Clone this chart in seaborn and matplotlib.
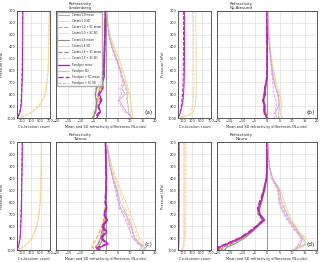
import numpy as np
import pandas as pd
import matplotlib
matplotlib.use("Agg")
import matplotlib.pyplot as plt
import seaborn as sns

# pressure levels (hPa)
plev = [100, 200, 300, 400, 500, 600, 650, 700, 750, 800, 850, 900, 950, 975, 1000]

stations = ["Lindenberg", "Ny-Alesund", "Tateno", "Nauru"]
panel_tags = ["(a)", "(b)", "(c)", "(d)"]

# ---- Lindenberg ----
lin_c10_mean = [0, -0.2, -0.3, -0.4, -0.5, -0.8, -1.0, -1.5, -2.2, -2.8, -3.0, -3.5, -4.0, -4.5, -5.0]
lin_c10_sd = [0.5, 1.0, 1.8, 3.5, 5.5, 7.0, 7.8, 8.5, 9.2, 9.8, 10.2, 10.5, 10.8, 11.0, 11.2]
lin_c10sc_mean = [0, -0.2, -0.3, -0.4, -0.6, -0.9, -1.2, -1.8, -2.5, -3.0, -3.4, -3.8, -4.3, -4.8, -5.2]
lin_c10sc_sd = [0.5, 1.0, 1.7, 3.3, 5.2, 6.8, 7.5, 8.2, 8.8, 9.5, 9.9, 10.2, 10.5, 10.8, 11.0]
lin_c16_mean = [0, -0.2, -0.3, -0.5, -0.6, -1.0, -1.3, -2.0, -3.5, -4.2, -3.8, -3.6, -4.0, -4.6, -5.0]
lin_c16_sd = [0.5, 0.9, 1.5, 2.8, 4.5, 6.2, 6.8, 7.5, 8.5, 9.0, 8.8, 9.2, 9.5, 10.0, 10.3]
lin_c16sc_mean = [0, -0.2, -0.3, -0.5, -0.7, -1.1, -1.5, -2.2, -3.8, -4.0, -3.6, -3.8, -4.2, -4.8, -5.1]
lin_c16sc_sd = [0.5, 0.9, 1.5, 2.7, 4.3, 6.0, 6.6, 7.2, 8.2, 8.6, 8.5, 9.0, 9.3, 9.8, 10.1]
lin_pl_mean = [0, -0.1, -0.2, -0.3, -0.4, -0.6, -0.5, -1.2, -1.0, -2.5, -1.5, -2.8, -2.0, -3.0, -3.5]
lin_pl_sd = [0.4, 0.8, 1.3, 2.5, 4.3, 6.0, 6.5, 7.8, 6.5, 8.0, 5.5, 7.0, 8.5, 10.0, 10.5]
lin_plsc_mean = [0, -0.1, -0.2, -0.3, -0.5, -0.7, -0.8, -1.5, -1.3, -2.8, -2.0, -3.0, -2.5, -3.5, -4.0]
lin_plsc_sd = [0.4, 0.8, 1.3, 2.4, 4.0, 5.8, 6.2, 7.0, 5.8, 6.5, 5.0, 6.3, 7.8, 9.5, 10.0]

# ---- Ny-Alesund ----
ny_c10_mean = [0, 0, 0.1, 0.1, 0.1, 0.1, 0.2, 0, -0.5, -1.0, -1.2, -0.8, -0.5, -0.2, 0.2]
ny_c10_sd = [0.3, 0.5, 0.8, 1.2, 1.8, 2.5, 3.0, 3.5, 4.2, 5.0, 5.5, 5.8, 5.5, 5.5, 6.0]
ny_c10sc_mean = [0, 0, 0.1, 0.1, 0.1, 0.1, 0.1, -0.1, -0.6, -1.1, -1.3, -1.0, -0.6, -0.3, 0.1]
ny_c10sc_sd = [0.3, 0.5, 0.8, 1.2, 1.8, 2.6, 3.2, 3.6, 4.4, 5.2, 5.6, 5.9, 5.6, 5.8, 6.2]
ny_c16_mean = [0, 0, 0.1, 0.1, 0.1, 0.1, 0.1, -0.2, -0.8, -1.3, -1.5, -1.2, -0.7, -0.4, 0]
ny_c16_sd = [0.3, 0.5, 0.7, 1.1, 1.6, 2.2, 2.6, 3.0, 3.6, 4.3, 4.8, 5.0, 4.8, 4.5, 5.0]
ny_c16sc_mean = [0, 0, 0.1, 0.1, 0.1, 0.1, 0.1, -0.3, -0.9, -1.4, -1.6, -1.3, -0.8, -0.5, 0]
ny_c16sc_sd = [0.3, 0.5, 0.7, 1.1, 1.5, 2.1, 2.5, 2.9, 3.4, 4.1, 4.6, 4.8, 4.6, 4.3, 4.8]
ny_pl_mean = [0, 0, 0, 0.1, 0, 0.1, 0, -0.3, -0.8, -0.6, -1.5, -0.8, -1.2, -0.5, 0]
ny_pl_sd = [0.3, 0.4, 0.6, 1.0, 1.5, 2.0, 2.3, 2.8, 3.5, 4.5, 4.8, 4.5, 3.5, 3.5, 4.0]
ny_plsc_mean = [0, 0, 0, 0.1, 0, 0, -0.1, -0.4, -1.0, -0.8, -1.7, -1.0, -1.4, -0.6, 0]
ny_plsc_sd = [0.3, 0.4, 0.6, 0.9, 1.3, 1.8, 2.0, 2.2, 2.5, 2.8, 3.5, 3.8, 3.0, 2.8, 3.0]

# ---- Tateno ----
tat_c10_mean = [0, 0, 0.2, 0.3, 0.2, 0.1, 0, -0.3, -0.5, -1.0, -1.5, -2.0, -3.0, -4.0, -3.0]
tat_c10_sd = [0.3, 1.5, 2.5, 4.2, 6.2, 8.2, 9.2, 10.2, 11.0, 12.0, 12.8, 13.8, 15.5, 17.0, 15.5]
tat_c10sc_mean = [0, 0, 0.1, 0.2, 0.1, 0, -0.2, -0.5, -0.8, -1.5, -2.5, -3.5, -5.0, -5.5, -4.0]
tat_c10sc_sd = [0.3, 1.4, 2.3, 3.8, 5.5, 7.2, 8.0, 9.0, 10.0, 11.0, 12.0, 13.0, 14.5, 16.0, 15.0]
tat_c16_mean = [0, 0.1, 0.3, 0.4, 0.3, 0.2, 0.5, 0, 0.5, -0.5, -1.0, -1.0, -2.0, -3.0, -2.0]
tat_c16_sd = [0.3, 1.2, 2.0, 3.2, 4.8, 6.0, 7.2, 8.5, 9.0, 10.0, 11.0, 11.5, 13.5, 15.0, 14.0]
tat_c16sc_mean = [0, 0, 0.2, 0.3, 0.2, 0, 0.3, -0.3, 0.2, -1.0, -1.5, -2.0, -3.0, -4.0, -2.5]
tat_c16sc_sd = [0.3, 1.1, 1.8, 3.0, 4.2, 5.3, 6.0, 7.0, 8.0, 9.0, 10.0, 11.0, 13.0, 14.5, 13.5]
tat_pl_mean = [0, 0.1, 0.2, 0.4, 0.2, 0, 0.5, -0.5, 0.8, -1.0, 0.5, -1.5, 1.0, -2.0, -3.0]
tat_pl_sd = [0.3, 1.0, 1.8, 3.0, 4.5, 5.5, 6.0, 8.0, 9.5, 10.5, 11.0, 12.0, 14.0, 16.5, 15.5]
tat_plsc_mean = [0, 0, 0.1, 0.3, 0.1, -0.2, 0.3, -0.8, 0.5, -1.5, 0, -2.0, 0.5, -3.0, -4.0]
tat_plsc_sd = [0.3, 1.0, 1.7, 2.8, 4.0, 5.0, 5.5, 7.0, 8.5, 9.5, 10.0, 11.0, 13.5, 16.0, 15.0]

# ---- Nauru ----
nau_c10_mean = [0, 0, 0, 0, -1.0, -2.0, -2.8, -3.0, -1.5, -4.0, -6.5, -10.0, -15.0, -17.5, -18.0]
nau_c10_sd = [0.3, 0.5, 1.0, 2.0, 5.5, 7.0, 7.8, 8.8, 10.0, 11.5, 13.0, 15.5, 16.5, 14.0, 11.5]
nau_c10sc_mean = [0, 0, 0, 0, -1.2, -2.5, -3.2, -3.5, -2.0, -4.5, -7.5, -11.0, -16.0, -18.5, -19.0]
nau_c10sc_sd = [0.3, 0.5, 1.0, 1.8, 5.0, 6.5, 7.2, 8.2, 9.5, 11.0, 12.5, 15.0, 16.0, 13.5, 11.0]
nau_c16_mean = [0, 0, 0, -0.2, -1.2, -2.2, -3.0, -3.2, -1.2, -3.5, -6.0, -9.0, -13.0, -16.0, -17.0]
nau_c16_sd = [0.3, 0.5, 0.9, 1.8, 4.5, 5.0, 5.8, 7.0, 8.5, 10.0, 12.0, 14.5, 15.5, 13.0, 10.5]
nau_c16sc_mean = [0, 0, 0, -0.3, -1.5, -2.6, -3.5, -3.6, -1.8, -4.0, -6.8, -10.0, -14.5, -17.5, -18.5]
nau_c16sc_sd = [0.3, 0.5, 0.9, 1.7, 4.2, 4.6, 5.4, 6.5, 8.0, 9.5, 11.5, 14.0, 15.0, 12.5, 10.0]
nau_pl_mean = [0, 0, 0, -0.2, -1.0, -2.5, -3.5, -2.8, -1.0, -3.8, -6.8, -10.5, -16.0, -19.0, -19.5]
nau_pl_sd = [0.3, 0.5, 1.0, 2.2, 5.0, 5.8, 6.8, 8.0, 9.0, 11.0, 12.5, 14.0, 13.5, 12.0, 11.5]
nau_plsc_mean = [0, 0, 0, -0.3, -1.3, -3.0, -3.8, -3.2, -1.5, -4.2, -7.2, -11.0, -16.5, -19.5, -20.0]
nau_plsc_sd = [0.3, 0.5, 0.9, 2.0, 4.5, 5.2, 6.2, 7.5, 8.5, 10.5, 12.0, 13.5, 13.0, 11.5, 11.0]

# ---- co-location counts ----
lin_n_c10 = [690, 685, 680, 676, 672, 665, 655, 640, 625, 600, 555, 470, 330, 200, 30]
lin_n_c10sc = [680, 675, 670, 666, 662, 655, 645, 630, 612, 585, 538, 450, 310, 185, 20]
lin_n_pl = [125, 124, 122, 120, 118, 115, 112, 108, 104, 100, 95, 88, 65, 40, 5]
lin_n_plsc = [118, 117, 115, 113, 111, 108, 105, 101, 97, 93, 88, 80, 58, 35, 3]
ny_n_c10 = [380, 380, 382, 383, 384, 385, 386, 386, 385, 383, 378, 365, 320, 250, 20]
ny_n_c10sc = [330, 330, 332, 333, 335, 336, 336, 336, 335, 332, 326, 312, 270, 210, 15]
ny_n_pl = [140, 140, 140, 138, 137, 135, 133, 130, 125, 118, 105, 85, 55, 30, 5]
ny_n_plsc = [118, 118, 117, 116, 115, 113, 110, 107, 102, 95, 85, 68, 42, 22, 3]
tat_n_c10 = [525, 522, 518, 512, 505, 495, 485, 470, 450, 420, 380, 320, 220, 140, 10]
tat_n_c10sc = [515, 512, 508, 502, 495, 485, 475, 460, 440, 410, 370, 310, 210, 130, 8]
tat_n_pl = [115, 112, 108, 104, 100, 96, 93, 90, 86, 82, 76, 65, 45, 25, 3]
tat_n_plsc = [110, 107, 103, 99, 95, 91, 88, 85, 81, 77, 71, 60, 40, 22, 2]
nau_n_c10 = [145, 145, 145, 145, 145, 145, 145, 144, 143, 141, 138, 133, 123, 105, 70]
nau_n_c10sc = [168, 168, 168, 168, 168, 168, 167, 166, 165, 163, 160, 155, 143, 122, 80]
nau_n_pl = [22, 22, 22, 22, 22, 22, 22, 21, 21, 20, 20, 19, 17, 14, 8]
nau_n_plsc = [16, 16, 16, 16, 16, 16, 16, 15, 15, 15, 14, 13, 12, 10, 5]

diffs = [
    [lin_c10_mean, lin_c10_sd, lin_c10sc_mean, lin_c10sc_sd, lin_c16_mean, lin_c16_sd,
     lin_c16sc_mean, lin_c16sc_sd, lin_pl_mean, lin_pl_sd, lin_plsc_mean, lin_plsc_sd],
    [ny_c10_mean, ny_c10_sd, ny_c10sc_mean, ny_c10sc_sd, ny_c16_mean, ny_c16_sd,
     ny_c16sc_mean, ny_c16sc_sd, ny_pl_mean, ny_pl_sd, ny_plsc_mean, ny_plsc_sd],
    [tat_c10_mean, tat_c10_sd, tat_c10sc_mean, tat_c10sc_sd, tat_c16_mean, tat_c16_sd,
     tat_c16sc_mean, tat_c16sc_sd, tat_pl_mean, tat_pl_sd, tat_plsc_mean, tat_plsc_sd],
    [nau_c10_mean, nau_c10_sd, nau_c10sc_mean, nau_c10sc_sd, nau_c16_mean, nau_c16_sd,
     nau_c16sc_mean, nau_c16sc_sd, nau_pl_mean, nau_pl_sd, nau_plsc_mean, nau_plsc_sd],
]
counts = [
    [lin_n_c10, lin_n_c10sc, lin_n_pl, lin_n_plsc],
    [ny_n_c10, ny_n_c10sc, ny_n_pl, ny_n_plsc],
    [tat_n_c10, tat_n_c10sc, tat_n_pl, tat_n_plsc],
    [nau_n_c10, nau_n_c10sc, nau_n_pl, nau_n_plsc],
]

series_labels = ["Cosmic1.0 mean", "Cosmic1.0 SD", "Cosmic1.0 + SC mean", "Cosmic1.0 + SC SD",
                 "Cosmic1.6 mean", "Cosmic1.6 SD", "Cosmic1.6 + SC mean", "Cosmic1.6 + SC SD",
                 "Paralipse mean", "Paralipse SD", "Paralipse + SC mean", "Paralipse + SC SD"]

ORA, ORA_L = "#f2a52c", "#fad48a"
GRY, GRY_L = "#8a8a8a", "#c6c6c6"
MAG, MAG_L = "#c21bc2", "#e29ae2"
styles = [
    (ORA, "-", 0.8), (ORA_L, "-", 0.6), (ORA, "--", 0.8), (ORA_L, "--", 0.6),
    (GRY, "-", 0.8), (GRY_L, "-", 0.6), (GRY, "--", 0.8), (GRY_L, "--", 0.6),
    (MAG, "-", 1.0), (MAG_L, "-", 0.6), (MAG, "--", 1.0), (MAG_L, "--", 0.6),
]
count_styles = [(ORA_L, "-", 0.6), (ORA_L, "--", 0.6), (MAG, "-", 0.7), (MAG, "--", 0.7)]

sns.set_style("whitegrid", {"axes.edgecolor": "0.25", "grid.color": "0.88"})
plt.rcParams["axes.linewidth"] = 0.6
plt.rcParams["grid.linewidth"] = 0.5

fig = plt.figure(figsize=(3.2, 2.62), dpi=100)
W, H = 320.0, 262.0
FS = 2.5

# quadrant geometry in pixels: (left-axis x0, x1, right-axis x0, x1, top y, bottom y)
quad = [
    (17, 50, 56, 155, 11, 118),
    (178, 211, 217, 317, 11, 118),
    (17, 50, 56, 155, 142, 250),
    (178, 211, 217, 317, 142, 250),
]

for k in range(4):
    lx0, lx1, rx0, rx1, yt, yb = quad[k]
    bottom = 1 - yb / H
    height = (yb - yt) / H
    axc = fig.add_axes([lx0 / W, bottom, (lx1 - lx0) / W, height])
    axd = fig.add_axes([rx0 / W, bottom, (rx1 - rx0) / W, height])

    for vals, (c, ls, lw) in zip(counts[k], count_styles):
        sns.lineplot(x=vals, y=plev, ax=axc, orient="y", sort=False, estimator=None,
                     color=c, linestyle=ls, linewidth=lw, legend=False)

    axd.axvline(0, color="0.6", lw=0.7, zorder=1)
    for j, (vals, (c, ls, lw)) in enumerate(zip(diffs[k], styles)):
        lab = series_labels[j] if k == 0 else None
        sns.lineplot(x=vals, y=plev, ax=axd, orient="y", sort=False, estimator=None,
                     color=c, linestyle=ls, linewidth=lw, label=lab, legend=False)

    for ax in (axc, axd):
        ax.set_ylim(1000, 100)
        ax.set_yticks(range(100, 1001, 100))
        ax.tick_params(labelsize=FS, pad=1, length=0)
    axc.set_xlim(0, 700)
    axc.set_xticks([100, 300, 500, 700])
    axc.set_ylabel("Pressure (hPa)", fontsize=FS, labelpad=2)
    axc.set_xlabel("Co-location count", fontsize=FS, labelpad=1.5)
    axd.set_xlim(-20, 20)
    axd.set_xticks(range(-20, 21, 5))
    axd.set_yticklabels([])
    axd.set_ylabel("")
    axd.set_xlabel("Mean and SD refractivity differences (N-units)", fontsize=FS, labelpad=1.5)
    axd.text(0.975, 0.03, panel_tags[k], transform=axd.transAxes, ha="right", va="bottom",
             fontsize=4.2, bbox=dict(facecolor="white", edgecolor="none", pad=0.3))

    cx = ((lx0 + rx1) / 2 - 6) / W
    fig.text(cx, 1 - (yt - 0.5) / H, "Refractivity\n" + stations[k],
             ha="center", va="bottom", fontsize=2.9, linespacing=1.1)

    if k == 0:
        axd.legend(loc="upper left", fontsize=1.9, frameon=True, handlelength=4.5,
                   borderaxespad=0.2, labelspacing=0.85, borderpad=0.4,
                   edgecolor="0.6", fancybox=False)

fig.savefig("out.png", dpi=100)
